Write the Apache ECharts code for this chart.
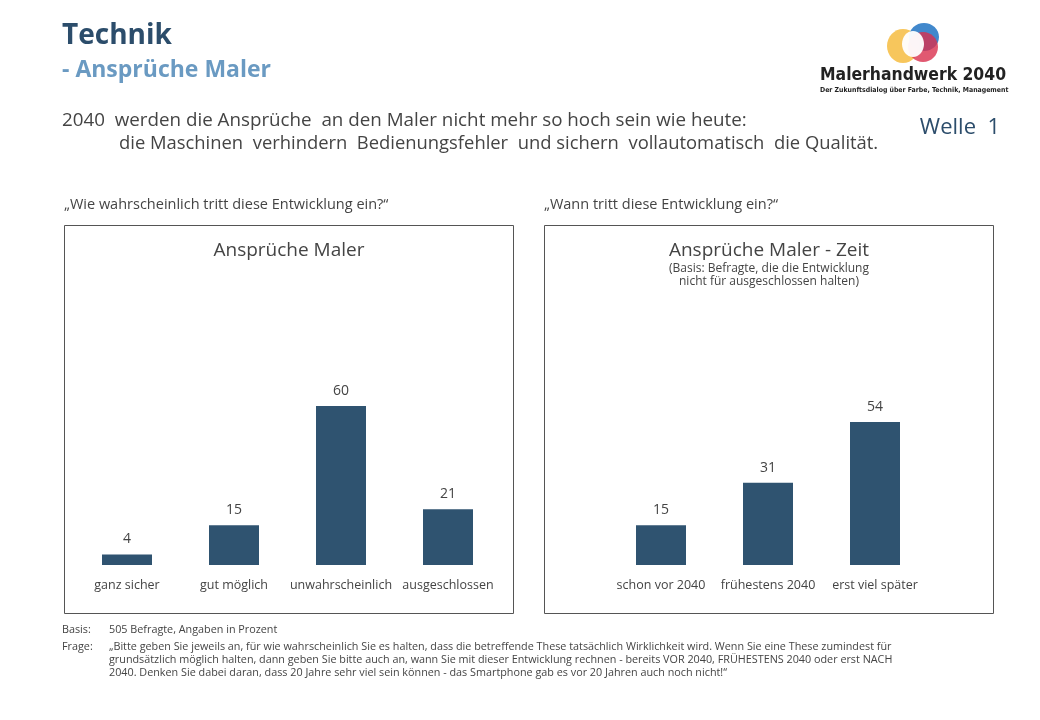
<!DOCTYPE html>
<html><head><meta charset="utf-8">
<script src="https://cdn.jsdelivr.net/npm/echarts@6/dist/echarts.min.js"></script>
<style>html,body{margin:0;padding:0;background:#fff}#c{width:1040px;height:720px}</style>
</head><body><div id="c"></div>
<script>
const catsLeft = ['ganz sicher', 'gut möglich', 'unwahrscheinlich', 'ausgeschlossen'];
const valsLeft = [4, 15, 60, 21];
const catsRight = ['schon vor 2040', 'frühestens 2040', 'erst viel später'];
const valsRight = [15, 31, 54];

const F = '"Open Sans", "Noto Sans", sans-serif';
const TXT = '#444';
const BAR = '#2f5370';

const chart = echarts.init(document.getElementById('c'), null, {renderer: 'canvas'});

function txt(x, y, s, size, opts) {
  return {
    type: 'text', x: x, y: y,
    style: Object.assign({text: s, font: size + 'px ' + F, fill: TXT, textAlign: 'left', textVerticalAlign: 'middle'}, opts || {})
  };
}

const barSeries = (vals, idx) => ({
  type: 'bar', data: vals, xAxisIndex: idx, yAxisIndex: idx, barWidth: 50,
  itemStyle: {color: BAR},
  label: {show: true, position: 'top', distance: 8, fontFamily: F, fontSize: 14, color: TXT},
  silent: true
});

chart.setOption({
  animation: false,
  grid: [
    {left: 73.5, width: 428, top: 300, height: 265},
    {left: 607.5, width: 321, top: 300, height: 265}
  ],
  xAxis: [catsLeft, catsRight].map((c, i) => ({
    type: 'category', gridIndex: i, data: c,
    axisLine: {show: false}, axisTick: {show: false}, splitLine: {show: false},
    axisLabel: {interval: 0, margin: 14, fontFamily: F, fontSize: 12.5, color: TXT}
  })),
  yAxis: [0, 1].map(i => ({type: 'value', gridIndex: i, min: 0, max: 100, show: false})),
  series: [barSeries(valsLeft, 0), barSeries(valsRight, 1)],
  graphic: [
    // boxes
    {type: 'rect', shape: {x: 64.5, y: 225.5, width: 449, height: 388}, style: {fill: 'none', stroke: '#555', lineWidth: 1}},
    {type: 'rect', shape: {x: 544.5, y: 225.5, width: 449, height: 388}, style: {fill: 'none', stroke: '#555', lineWidth: 1}},
    // header
    txt(62, 36, 'Technik', 28, {font: 'bold 28px ' + F, fill: '#2c4d6b'}),
    txt(62, 70, '- Ansprüche Maler', 23, {font: 'bold 23px ' + F, fill: '#6a9ac2'}),
    txt(62, 121, '2040  werden die Ansprüche  an den Maler nicht mehr so hoch sein wie heute:', 18.8),
    txt(119, 144, 'die Maschinen  verhindern  Bedienungsfehler  und sichern  vollautomatisch  die Qualität.', 18.4),
    txt(1000, 128, 'Welle  1', 22, {fill: '#2c4d6b', textAlign: 'right'}),
    // questions
    txt(64, 205, '„Wie wahrscheinlich tritt diese Entwicklung ein?“', 14.5),
    txt(544, 205, '„Wann tritt diese Entwicklung ein?“', 14.5),
    // chart titles
    txt(289, 251, 'Ansprüche Maler', 19, {textAlign: 'center'}),
    txt(769, 251, 'Ansprüche Maler - Zeit', 19, {textAlign: 'center'}),
    txt(769, 269, '(Basis: Befragte, die die Entwicklung', 12, {textAlign: 'center'}),
    txt(769, 282, 'nicht für ausgeschlossen halten)', 12, {textAlign: 'center'}),
    // footer
    txt(62, 630, 'Basis:', 10.8),
    txt(109, 630, '505 Befragte, Angaben in Prozent', 10.8),
    txt(62, 647, 'Frage:', 10.8),
    txt(109, 647, '„Bitte geben Sie jeweils an, für wie wahrscheinlich Sie es halten, dass die betreffende These tatsächlich Wirklichkeit wird. Wenn Sie eine These zumindest für', 10.8),
    txt(109, 660, 'grundsätzlich möglich halten, dann geben Sie bitte auch an, wann Sie mit dieser Entwicklung rechnen - bereits VOR 2040, FRÜHESTENS 2040 oder erst NACH', 10.8),
    txt(109, 673, '2040. Denken Sie dabei daran, dass 20 Jahre sehr viel sein können - das Smartphone gab es vor 20 Jahren auch noch nicht!“', 10.8),
    // logo
    {type: 'ellipse', shape: {cx: 903, cy: 46, rx: 16, ry: 17}, style: {fill: '#f6c04a', opacity: 0.9}},
    {type: 'ellipse', shape: {cx: 924, cy: 37, rx: 15, ry: 14}, style: {fill: '#2c7bc6', opacity: 0.9}},
    {type: 'ellipse', shape: {cx: 923, cy: 47, rx: 15, ry: 15}, style: {fill: '#d9304e', opacity: 0.8}},
    {type: 'ellipse', shape: {cx: 913, cy: 44, rx: 11, ry: 13}, style: {fill: '#ffffff', opacity: 0.95}},
    txt(820, 75, 'Malerhandwerk 2040', 17.4, {font: 'bold 17.4px "DejaVu Sans Condensed", "Noto Sans", sans-serif', fill: '#222'}),
    txt(820, 90, 'Der Zukunftsdialog über Farbe, Technik, Management', 6.9, {font: 'bold 6.9px "DejaVu Sans Condensed", "Noto Sans", sans-serif', fill: '#222'})
  ]
});
</script>
</body></html>
